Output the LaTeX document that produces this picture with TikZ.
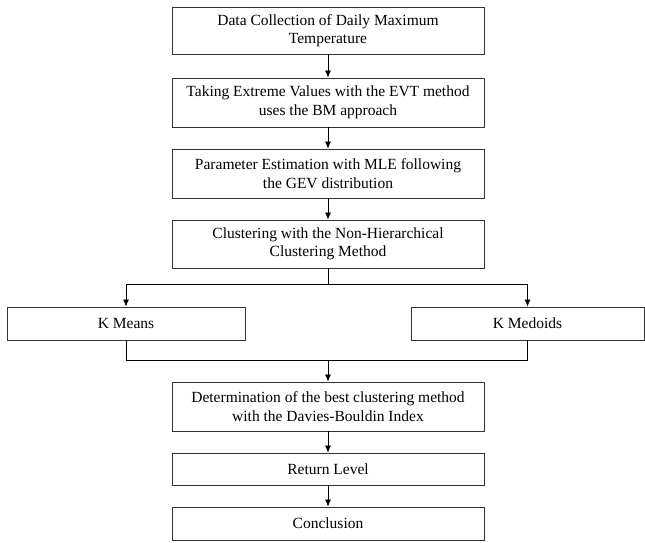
\documentclass[tikz,border=0pt]{standalone}
\usepackage{fontspec}
\setmainfont{Liberation Serif}
\usepackage{tikz}
\usetikzlibrary{arrows.meta}
\tikzset{>={Latex[length=7pt,width=6pt]}}
\tikzstyle{box} = [rectangle, draw=black!80, line width=0.8pt, align=center, inner sep=0, font=\fontsize{15.5}{18.5}\selectfont]
\tikzstyle{link} = [->, draw=black, line width=0.7pt]

\begin{document}
\begin{tikzpicture}[x=1pt, y=-1pt]
\useasboundingbox (0,0) rectangle (645,542);
% main column
\node [box, minimum width=312pt, minimum height=47pt] (data) at (328, 30.5) {Data Collection of Daily Maximum\\Temperature};
\node [box, minimum width=312pt, minimum height=49pt] (evt) at (328, 102.5) {Taking Extreme Values with the EVT method\\uses the BM approach};
\node [box, minimum width=312pt, minimum height=49pt] (mle) at (328, 173.5) {Parameter Estimation with MLE following\\the GEV distribution};
\node [box, minimum width=312pt, minimum height=48pt] (clus) at (328, 244) {Clustering with the Non-Hierarchical\\Clustering Method};
% two methods
\node [box, minimum width=238pt, minimum height=33pt] (kmeans) at (126, 323.5) {K Means};
\node [box, minimum width=233pt, minimum height=33pt] (kmed) at (527.5, 323.5) {K Medoids};
% after comparison
\node [box, minimum width=312pt, minimum height=49pt] (db) at (328, 406.5) {Determination of the best clustering method\\with the Davies-Bouldin Index};
\node [box, minimum width=312pt, minimum height=32pt] (rl) at (328, 469) {Return Level};
\node [box, minimum width=312pt, minimum height=33pt] (conc) at (328, 523.5) {Conclusion};
\coordinate (split) at (328, 284);
\coordinate (merge) at (328, 360);
\draw [link] (data) to (evt);
\draw [link] (evt) to (mle);
\draw [link] (mle) to (clus);
\draw [-, line width=0.7pt] (clus) to (split);
\draw [link] (split) -| (kmeans);
\draw [link] (split) -| (kmed);
\draw [-, line width=0.7pt] (kmeans) |- (merge);
\draw [-, line width=0.7pt] (kmed) |- (merge);
\draw [link] (merge) to (db);
\draw [link] (db) to (rl);
\draw [link] (rl) to (conc);
\end{tikzpicture}
\end{document}
